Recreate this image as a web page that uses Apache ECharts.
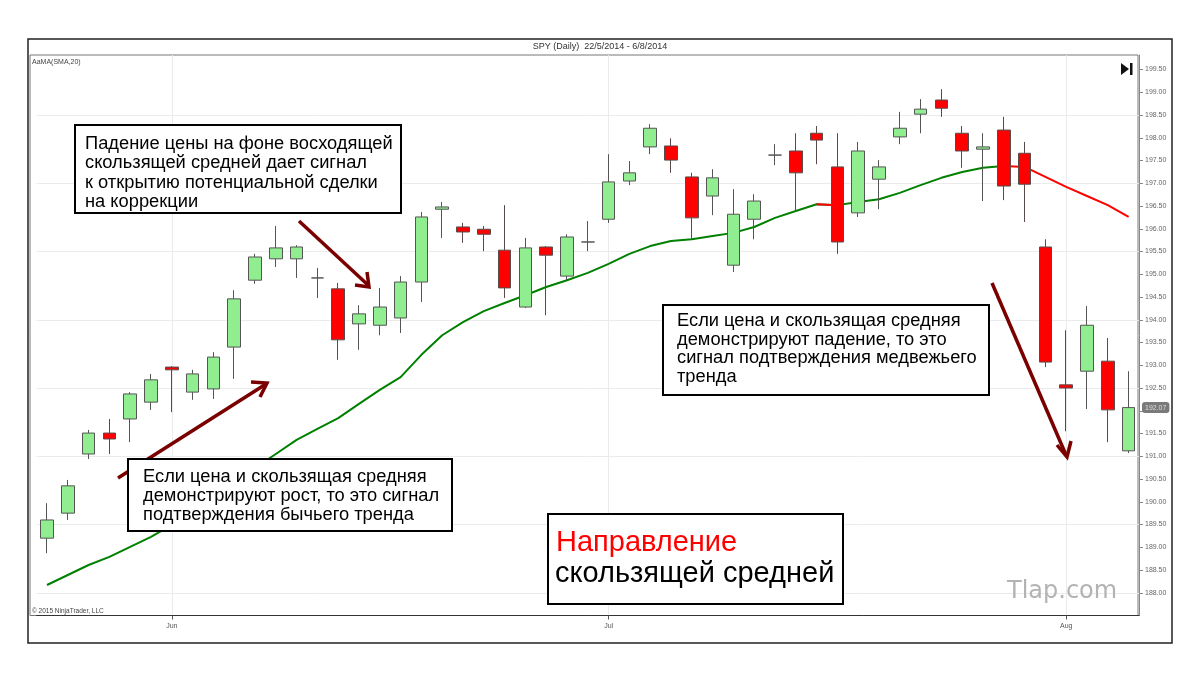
<!DOCTYPE html>
<html>
<head>
<meta charset="utf-8">
<title>SPY (Daily) - AaMA(SMA,20)</title>
<script src="https://cdn.jsdelivr.net/npm/echarts/dist/echarts.min.js"></script>
<style>
	html, body { margin: 0; padding: 0; background: #fff; }
	#chart { width: 1200px; height: 673px; }
</style>
</head>
<body>
<div id="chart"></div>
<script>
// trading days shown on the chart
var dates = [
	'2014-05-22', '2014-05-23', '2014-05-27', '2014-05-28', '2014-05-29', '2014-05-30',
	'2014-06-02', '2014-06-03', '2014-06-04', '2014-06-05', '2014-06-06',
	'2014-06-09', '2014-06-10', '2014-06-11', '2014-06-12', '2014-06-13',
	'2014-06-16', '2014-06-17', '2014-06-18', '2014-06-19', '2014-06-20',
	'2014-06-23', '2014-06-24', '2014-06-25', '2014-06-26', '2014-06-27', '2014-06-30',
	'2014-07-01', '2014-07-02', '2014-07-03',
	'2014-07-07', '2014-07-08', '2014-07-09', '2014-07-10', '2014-07-11',
	'2014-07-14', '2014-07-15', '2014-07-16', '2014-07-17', '2014-07-18',
	'2014-07-21', '2014-07-22', '2014-07-23', '2014-07-24', '2014-07-25',
	'2014-07-28', '2014-07-29', '2014-07-30', '2014-07-31',
	'2014-08-01', '2014-08-04', '2014-08-05', '2014-08-06'
];

var opens = [
	189.20, 189.75, 191.05, 191.51, 191.82, 192.19, 192.96, 192.41, 192.48, 193.40,
	194.87, 195.34, 195.34, 194.92, 194.68, 193.91, 193.88, 194.04, 194.83, 196.43,
	196.04, 195.99, 195.53, 194.28, 195.60, 194.96, 195.71, 196.21, 197.05, 197.80,
	197.82, 197.14, 196.72, 195.20, 196.21, 197.62, 197.71, 198.10, 197.36, 196.35,
	197.09, 198.02, 198.52, 198.83, 198.10, 197.75, 198.17, 197.66, 195.60, 192.57,
	192.87, 193.09, 191.12
];
var closes = [
	189.60, 190.35, 191.51, 191.38, 192.37, 192.68, 192.90, 192.81, 193.18, 194.46,
	195.38, 195.58, 195.60, 194.92, 193.56, 194.13, 194.28, 194.83, 196.26, 196.48,
	195.93, 195.88, 194.70, 195.58, 195.42, 195.82, 195.71, 197.03, 197.23, 198.21,
	197.51, 196.24, 197.12, 196.32, 196.61, 197.62, 197.23, 197.95, 195.71, 197.71,
	197.36, 198.21, 198.63, 198.65, 197.71, 197.80, 196.94, 196.98, 193.07, 192.50,
	193.88, 192.02, 192.07
];
var lows = [
	188.87, 189.60, 190.94, 191.05, 191.31, 192.02, 191.97, 192.24, 192.26, 192.70,
	194.79, 195.16, 194.92, 194.48, 193.12, 193.34, 193.66, 193.71, 194.39, 195.80,
	195.69, 195.51, 194.48, 194.26, 194.10, 194.87, 195.51, 196.13, 196.96, 197.64,
	197.23, 195.77, 196.30, 195.05, 195.77, 197.40, 196.41, 197.42, 195.45, 196.26,
	196.43, 197.86, 198.10, 198.46, 197.34, 196.61, 196.63, 196.15, 192.96, 191.55,
	192.04, 191.31, 191.07
];
var highs = [
	189.97, 190.48, 191.58, 191.82, 192.41, 192.81, 192.98, 192.90, 193.29, 194.65,
	195.45, 196.06, 195.64, 195.14, 194.81, 194.32, 194.70, 194.96, 196.37, 196.59,
	196.13, 196.06, 196.52, 195.80, 195.62, 195.88, 196.17, 197.64, 197.49, 198.30,
	197.99, 197.23, 197.31, 196.87, 196.76, 197.86, 198.10, 198.26, 198.10, 197.91,
	197.51, 198.57, 198.85, 199.07, 198.26, 198.10, 198.46, 197.91, 195.77, 193.77,
	194.30, 193.60, 192.87
];

// AaMA(SMA,20) as drawn on the chart
var smaValues = [
	188.17, 188.39, 188.61, 188.79, 189.01, 189.23, 189.49, 189.78, 190.10, 190.43,
	190.74, 191.05, 191.36, 191.60, 191.84, 192.15, 192.46, 192.74, 193.23, 193.66,
	193.95, 194.19, 194.37, 194.54, 194.72, 194.87, 195.03, 195.23, 195.45, 195.62,
	195.73, 195.77, 195.84, 195.91, 196.04, 196.24, 196.39, 196.54, 196.52, 196.59,
	196.65, 196.79, 196.96, 197.12, 197.25, 197.34, 197.38, 197.36, 197.14, 196.92,
	196.72, 196.52, 196.26
];

var yTicks = [
	188.0, 188.5, 189.0, 189.5, 190.0, 190.5, 191.0, 191.5, 192.0, 192.5, 193.0, 193.5,
	194.0, 194.5, 195.0, 195.5, 196.0, 196.5, 197.0, 197.5, 198.0, 198.5, 199.0, 199.5
];
var gridLevels = [188.0, 189.5, 191.0, 192.5, 194.0, 195.5, 197.0, 198.5];
var monthStarts = ['2014-06-02', '2014-07-01', '2014-08-01'];
var monthNames = ['Jun', 'Jul', 'Aug'];
var lastPrice = 192.07;

var colors = {
	up: '#90ee90',
	down: '#ff0000',
	outline: '#555555',
	smaUp: '#008000',
	smaDown: '#ff0000',
	grid: '#ebebeb',
	arrow: '#7a0000',
	axisText: '#555555'
};

$chart();

function $chart() {
	var chart = echarts.init(document.getElementById('chart'));

	var candles = [];
	for (var i = 0; i < dates.length; i++) {
		candles.push([opens[i], closes[i], lows[i], highs[i]]);
	}

	// split the SMA into rising / falling pieces so each gets its own colour
	var smaRise = [];
	var smaFall = [];
	for (var j = 0; j < smaValues.length; j++) {
		smaRise[j] = null;
		smaFall[j] = null;
	}
	for (var k = 1; k < smaValues.length; k++) {
		var target = smaValues[k] < smaValues[k - 1] ? smaFall : smaRise;
		target[k - 1] = smaValues[k - 1];
		target[k] = smaValues[k];
	}

	function isMonthStart(index, value) {
		return monthStarts.indexOf(value) >= 0;
	}

	var gridMarks = [];
	for (var g = 0; g < gridLevels.length; g++) gridMarks.push({ yAxis: gridLevels[g] });
	for (var m = 0; m < monthStarts.length; m++) gridMarks.push({ xAxis: monthStarts[m] });

	var textFont = 'Liberation Sans, Arial, sans-serif';
	var noteSize = 18.3;

	var option = {
		animation: false,
		backgroundColor: '#ffffff',
		grid: {
			left: 36.6,
			right: 61,
			top: 55,
			bottom: 57.5
		},
		axisPointer: {
			triggerOn: 'none'
		},
		xAxis: {
			type: 'category',
			data: dates,
			boundaryGap: true,
			axisLine: { show: true, lineStyle: { color: '#333333', width: 1 } },
			axisTick: {
				show: true,
				interval: isMonthStart,
				alignWithLabel: true,
				length: 4,
				lineStyle: { color: '#555555' }
			},
			axisLabel: {
				interval: isMonthStart,
				formatter: function (value) {
					var idx = monthStarts.indexOf(value);
					return idx >= 0 ? monthNames[idx] : '';
				},
				fontSize: 7,
				fontFamily: textFont,
				color: colors.axisText,
				margin: 7
			},
			splitLine: { show: false }
		},
		yAxis: {
			type: 'value',
			position: 'right',
			min: 187.5,
			max: 199.82,
			axisLine: { show: true, lineStyle: { color: '#888888' } },
			axisTick: {
				show: true,
				customValues: yTicks,
				length: 4,
				lineStyle: { color: '#888888' }
			},
			axisLabel: {
				customValues: yTicks,
				formatter: function (v) { return v.toFixed(2); },
				fontSize: 7,
				fontFamily: textFont,
				color: '#666666',
				margin: 6
			},
			splitLine: { show: false },
			axisPointer: {
				show: true,
				status: 'show',
				value: lastPrice,
				type: 'line',
				lineStyle: { opacity: 0 },
				triggerTooltip: false,
				handle: { show: false },
				label: {
					show: true,
					precision: 2,
					backgroundColor: '#7a7a7a',
					color: '#dddddd',
					fontSize: 7,
					fontFamily: textFont,
					padding: [2, 3]
				}
			}
		},
		series: [
			{
				// faint chart grid, kept under everything else
				name: 'grid',
				type: 'line',
				data: [],
				z: 0,
				silent: true,
				markLine: {
					z: 0,
					silent: true,
					animation: false,
					symbol: ['none', 'none'],
					label: { show: false },
					emphasis: { disabled: true },
					lineStyle: { color: colors.grid, width: 1, type: 'solid' },
					data: gridMarks
				}
			},
			{
				name: 'SMA up',
				type: 'line',
				data: smaRise,
				z: 1,
				showSymbol: false,
				connectNulls: false,
				lineStyle: { color: colors.smaUp, width: 2 }
			},
			{
				name: 'SMA down',
				type: 'line',
				data: smaFall,
				z: 1,
				showSymbol: false,
				connectNulls: false,
				lineStyle: { color: colors.smaDown, width: 2 }
			},
			{
				name: 'SPY',
				type: 'candlestick',
				data: candles,
				z: 3,
				barWidth: 13,
				itemStyle: {
					color: colors.up,
					color0: colors.down,
					borderColor: colors.outline,
					borderColor0: '#5a4a4a',
					borderColorDoji: colors.outline,
					borderWidth: 1
				}
			}
		],
		graphic: [
			// outer frame and plot frame
			{ type: 'rect', shape: { x: 28, y: 39, width: 1144, height: 604 }, style: { fill: 'none', stroke: '#222', lineWidth: 1.5 }, silent: true, z: 0 },
			{ type: 'rect', shape: { x: 30, y: 55, width: 1108, height: 560.5 }, style: { fill: 'none', stroke: '#777', lineWidth: 1 }, silent: true, z: 0 },
			{ type: 'text', style: { text: 'SPY (Daily)  22/5/2014 - 6/8/2014', x: 600, y: 47, align: 'center', verticalAlign: 'middle', fontSize: 9, fontFamily: textFont, fill: '#333' } },
			{ type: 'text', style: { text: 'AaMA(SMA,20)', x: 32, y: 62, align: 'left', verticalAlign: 'middle', fontSize: 7, fontFamily: textFont, fill: '#444' } },
			{ type: 'text', style: { text: '\u00a9 2015 NinjaTrader, LLC', x: 32, y: 611, align: 'left', verticalAlign: 'middle', fontSize: 6.5, fontFamily: textFont, fill: '#444' } },
			// "go to end" icon
			{ type: 'polygon', shape: { points: [[1121, 63], [1121, 75], [1129, 69]] }, style: { fill: '#111' } },
			{ type: 'rect', shape: { x: 1130, y: 63, width: 2.5, height: 12 }, style: { fill: '#111' } },

			// arrows
			{ type: 'polyline', shape: { points: [[118, 478], [266, 384]] }, style: { stroke: colors.arrow, lineWidth: 3.5, fill: 'none' }, z: 50 },
			{ type: 'polyline', shape: { points: [[251, 382], [267, 383], [260, 397]] }, style: { stroke: colors.arrow, lineWidth: 3.5, fill: 'none' }, z: 50 },
			{ type: 'polyline', shape: { points: [[299, 221], [368, 285]] }, style: { stroke: colors.arrow, lineWidth: 3.5, fill: 'none' }, z: 50 },
			{ type: 'polyline', shape: { points: [[355, 285], [369, 287], [367, 272]] }, style: { stroke: colors.arrow, lineWidth: 3.5, fill: 'none' }, z: 50 },
			{ type: 'polyline', shape: { points: [[992, 283], [1066, 455]] }, style: { stroke: colors.arrow, lineWidth: 3.5, fill: 'none' }, z: 50 },
			{ type: 'polyline', shape: { points: [[1057, 445], [1067, 457], [1071, 441]] }, style: { stroke: colors.arrow, lineWidth: 3.5, fill: 'none' }, z: 50 },

			// annotation boxes
			{ type: 'rect', shape: { x: 75, y: 125, width: 326, height: 88 }, style: { fill: '#fff', stroke: '#000', lineWidth: 2 }, z: 60 },
			{ type: 'text', z: 61, style: { text: 'Падение цены на фоне восходящей\nскользящей средней дает сигнал\nк открытию потенциальной сделки\nна коррекции', x: 85, y: 134, align: 'left', verticalAlign: 'top', fontSize: noteSize, lineHeight: 19.5, fontFamily: textFont, fill: '#000' } },

			{ type: 'rect', shape: { x: 128, y: 459, width: 324, height: 72 }, style: { fill: '#fff', stroke: '#000', lineWidth: 2 }, z: 60 },
			{ type: 'text', z: 61, style: { text: 'Если цена и скользящая средняя\nдемонстрируют рост, то это сигнал\nподтверждения бычьего тренда', x: 143, y: 467, align: 'left', verticalAlign: 'top', fontSize: noteSize, lineHeight: 19, fontFamily: textFont, fill: '#000' } },

			{ type: 'rect', shape: { x: 663, y: 305, width: 326, height: 90 }, style: { fill: '#fff', stroke: '#000', lineWidth: 2 }, z: 60 },
			{ type: 'text', z: 61, style: { text: 'Если цена и скользящая средняя\nдемонстрируют падение, то это\nсигнал подтверждения медвежьего\nтренда', x: 677, y: 312, align: 'left', verticalAlign: 'top', fontSize: noteSize, lineHeight: 18.5, fontFamily: textFont, fill: '#000' } },

			{ type: 'rect', shape: { x: 548, y: 514, width: 295, height: 90 }, style: { fill: '#fff', stroke: '#000', lineWidth: 2 }, z: 60 },
			{ type: 'text', z: 61, style: { text: 'Направление', x: 556, y: 543, align: 'left', verticalAlign: 'middle', fontSize: 29, fontFamily: textFont, fill: '#ff0000' } },
			{ type: 'text', z: 61, style: { text: 'скользящей средней', x: 555, y: 574, align: 'left', verticalAlign: 'middle', fontSize: 29, fontFamily: textFont, fill: '#000' } },

			// watermark
			{ type: 'text', z: 61, style: { text: 'Tlap.com', x: 1007, y: 592, align: 'left', verticalAlign: 'middle', fontSize: 24, fontFamily: 'DejaVu Sans, sans-serif', fill: '#b3b3b3' } }
		]
	};

	chart.setOption(option);
	return chart;
}
</script>
</body>
</html>
